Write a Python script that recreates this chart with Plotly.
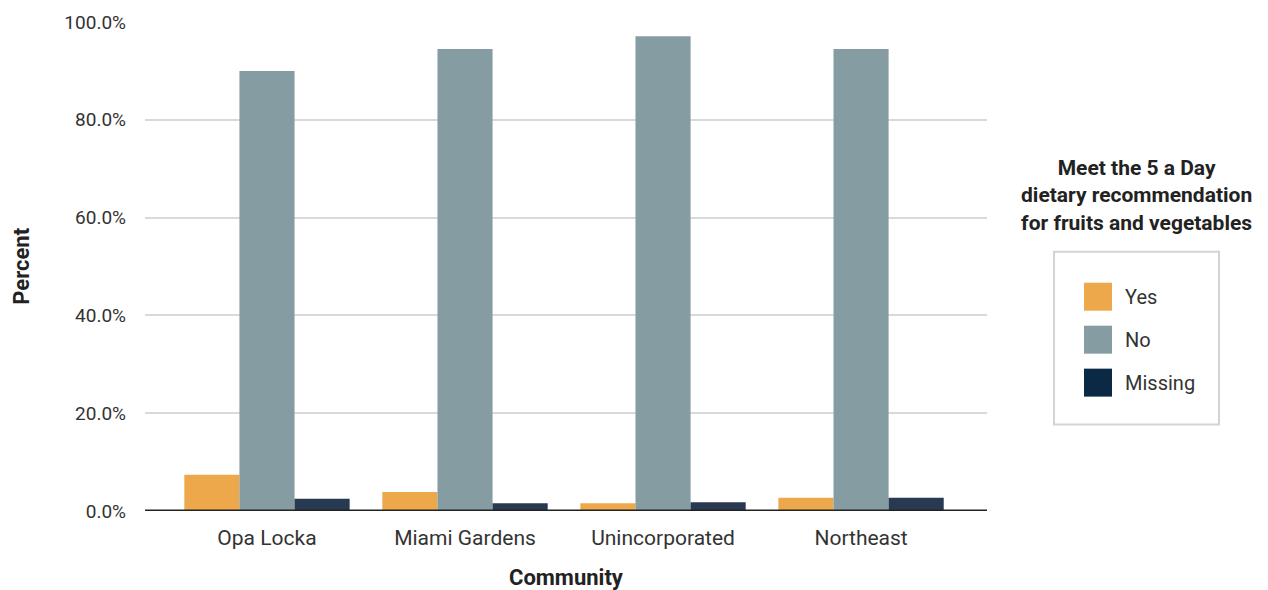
import plotly.graph_objects as go

# Share of respondents meeting the 5 a Day fruit & vegetable recommendation
communities = ["Opa Locka", "Miami Gardens", "Unincorporated", "Northeast"]
yes_pct = [7.4, 3.9, 1.6, 2.7]
no_pct = [90.0, 94.5, 97.1, 94.5]
missing_pct = [2.5, 1.6, 1.8, 2.7]

series_names = ["Yes", "No", "Missing"]
bar_colors = ["#EEA84C", "#859DA2", "#283A51"]
swatch_colors = ["#EEA84C", "#859DA2", "#0B2845"]
y_ticks = [0, 20, 40, 60, 80, 100]
y_tick_text = ["0.0%", "20.0%", "40.0%", "60.0%", "80.0%", "100.0%"]
legend_title = "Meet the 5 a Day<br>dietary recommendation<br>for fruits and vegetables"

FONT = "Roboto, Liberation Sans, sans-serif"
W, H = 1268, 590
L, R, T, B = 145, 987, 22, 511.5


def px(x):
    return (x - L) / (R - L)


def py(y):
    return (B - y) / (B - T)


fig = go.Figure()
for name, vals, col in zip(series_names, [yes_pct, no_pct, missing_pct], bar_colors):
    fig.add_trace(go.Bar(name=name, x=communities, y=vals, marker_color=col,
                         marker_line_width=0, showlegend=False))

# zero baseline
fig.add_shape(type="line", xref="paper", yref="y", x0=0, x1=1, y0=0, y1=0,
              line=dict(color="#222222", width=3))

# legend box with title above
fig.add_shape(type="rect", xref="paper", yref="paper",
              x0=px(1054), x1=px(1219), y0=py(425), y1=py(252),
              line=dict(color="#D3D3D3", width=2), fillcolor="white")
for i, (name, col) in enumerate(zip(series_names, swatch_colors)):
    cy = 297 + 43 * i
    fig.add_shape(type="rect", xref="paper", yref="paper",
                  x0=px(1084), x1=px(1112), y0=py(cy + 14), y1=py(cy - 14),
                  line_width=0, fillcolor=col)
    fig.add_annotation(xref="paper", yref="paper", x=px(1123), y=py(cy),
                       text=name, showarrow=False, xanchor="left", yanchor="middle",
                       font=dict(family=FONT, size=20, color="#333333"))
fig.add_annotation(xref="paper", yref="paper", x=px(1136), y=py(196),
                   text=f"<b>{legend_title}</b>", showarrow=False,
                   xanchor="center", yanchor="middle", align="center",
                   font=dict(family=FONT, size=21, color="#222222"))

# axis titles
fig.add_annotation(xref="paper", yref="paper", x=px(22), y=py(267),
                   text="<b>Percent</b>", textangle=-90, showarrow=False,
                   xanchor="center", yanchor="middle",
                   font=dict(family=FONT, size=22, color="#222222"))
fig.add_annotation(xref="paper", yref="paper", x=px(566), y=py(578),
                   text="<b>Community</b>", showarrow=False,
                   xanchor="center", yanchor="middle",
                   font=dict(family=FONT, size=22, color="#222222"))

fig.update_layout(
    width=W, height=H,
    margin=dict(l=L, r=W - R, t=T, b=H - B),
    paper_bgcolor="white", plot_bgcolor="white",
    barmode="group", bargap=0.165, bargroupgap=0,
    font=dict(family=FONT, size=19, color="#333333"),
    xaxis=dict(range=[-0.616, 3.636], showgrid=False, zeroline=False, showline=False,
               ticks="", ticklabelstandoff=12, tickfont=dict(size=21, color="#333333")),
    yaxis=dict(range=[0, 100], tickvals=y_ticks, ticktext=y_tick_text,
               showgrid=True, gridcolor="#D9D9D9", gridwidth=2, zeroline=False,
               showline=False, ticks="", ticklabelstandoff=18,
               tickfont=dict(size=19, color="#333333")),
)

fig.write_html("out.html")
